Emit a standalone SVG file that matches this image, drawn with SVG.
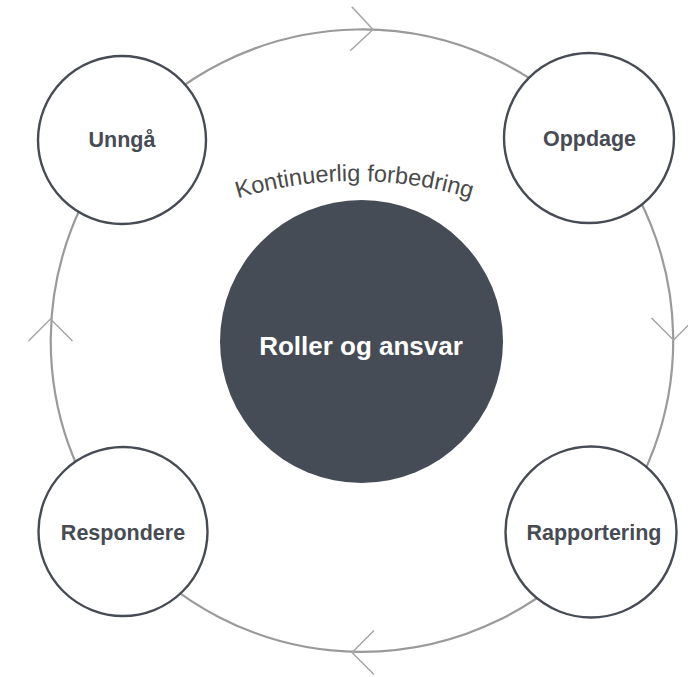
<svg xmlns="http://www.w3.org/2000/svg" xmlns:xlink="http://www.w3.org/1999/xlink" width="688" height="677" viewBox="0 0 688 677">
<style>
.ring{fill:none;stroke:#9a9a9a;stroke-width:2.2}
.chev{fill:none;stroke:#a6a6a6;stroke-width:1.5}
.node{fill:#fff;stroke:#474c54;stroke-width:2.4}
.lbl{font-family:"Liberation Sans",Arial,sans-serif;font-weight:bold;font-size:21.5px;fill:#474c54;text-anchor:middle}
.center{fill:#464c55}
.ctext{font-family:"Liberation Sans",Arial,sans-serif;font-weight:bold;font-size:26px;fill:#fff;text-anchor:middle}
.arc{font-family:"Liberation Sans",Arial,sans-serif;font-size:23.5px;fill:#4a4a4a}
</style>
<defs>
<path id="chevron" class="chev" d="M-22,-22 L0,0 L-22,22"/>
<path id="arcpath" d="M215,206.1 A400,400 0 0,1 494,206.1" fill="none"/>
</defs>
<rect width="688" height="677" fill="#fff"/>
<g id="connectors">
<path class="ring" d="M123,141.3 A311.5,311.5 0 0,1 594,133"/>
<path class="ring" d="M594,133 A311.5,311.5 0 0,1 601,540"/>
<path class="ring" d="M601,540 A311.5,311.5 0 0,1 119,535.4"/>
<path class="ring" d="M119,535.4 A311.5,311.5 0 0,1 123,141.3"/>
<use xlink:href="#chevron" transform="translate(373,29.5) rotate(2)"/>
<use xlink:href="#chevron" transform="translate(673.5,340) rotate(90)"/>
<use xlink:href="#chevron" transform="translate(352,652.5) rotate(180)"/>
<use xlink:href="#chevron" transform="translate(50.5,319) rotate(-90)"/>
</g>
<g id="label-kontinuerlig">
<text class="arc"><textPath xlink:href="#arcpath" startOffset="50%" text-anchor="middle">Kontinuerlig forbedring</textPath></text>
</g>
<g id="roller">
<circle class="center" cx="361.5" cy="341.5" r="141.5"/>
<text class="ctext" x="361" y="355">Roller og ansvar</text>
</g>
<g id="unnga">
<circle class="node" cx="122" cy="140" r="84"/>
<text class="lbl" x="122" y="147">Unngå</text>
</g>
<g id="oppdage">
<circle class="node" cx="589" cy="138" r="85"/>
<text class="lbl" x="589.5" y="146">Oppdage</text>
</g>
<g id="rapportering">
<circle class="node" cx="591" cy="532" r="85.5"/>
<text class="lbl" x="594" y="540">Rapportering</text>
</g>
<g id="respondere">
<circle class="node" cx="123" cy="531.5" r="84.5"/>
<text class="lbl" x="123" y="540">Respondere</text>
</g>
</svg>
